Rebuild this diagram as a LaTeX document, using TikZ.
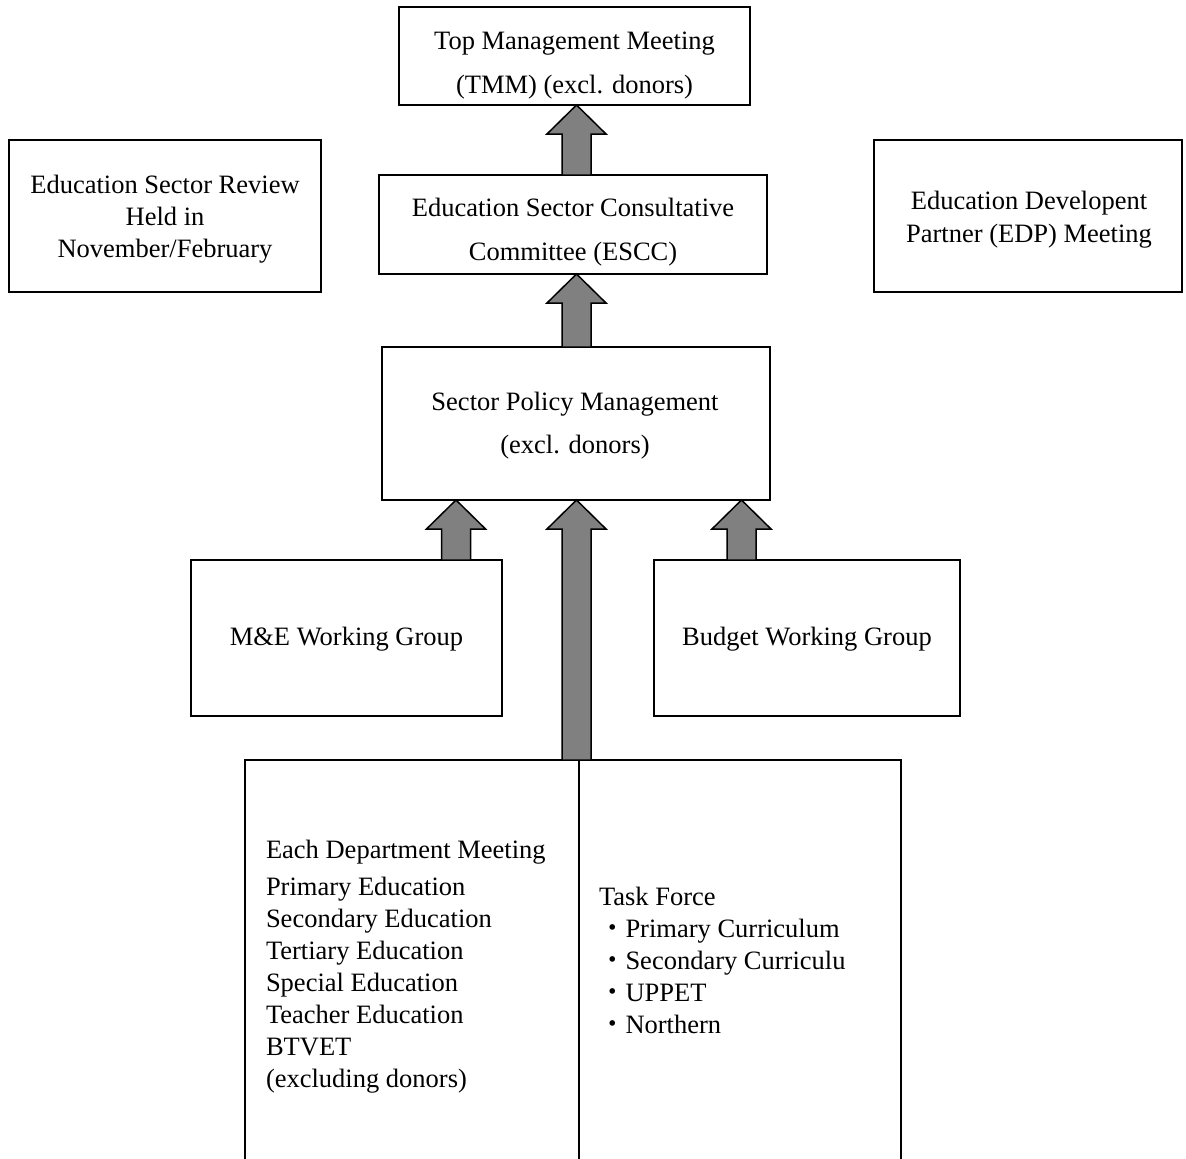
\documentclass[tikz,border=0pt]{standalone}
\usepackage{fontspec}
\setmainfont{Liberation Serif}
\newfontfamily\cjkfont{Noto Sans CJK JP}
\usetikzlibrary{calc}
\definecolor{flowgray}{HTML}{808080}
\tikzset{
  box/.style={draw=black, line width=1.3pt, fill=white, inner sep=0pt, outer sep=0pt},
  lbl/.style={inner sep=0pt, outer sep=0pt, font=\fontsize{26.5}{32}\selectfont},
  upflow/.style={draw=black, line width=1.5pt, fill=flowgray, line join=miter},
}
% block arrow pointing up: #1 = foot of the shaft, #2 = tip
\newcommand\upblock[2]{%
  \draw[upflow] let \p1=#1, \p2=#2 in
    (\x2-14.5pt,\y1) -- (\x2-14.5pt,\y2-29pt) -- (\x2-29.5pt,\y2-29pt) --
    (\x2,\y2) -- (\x2+29.5pt,\y2-29pt) -- (\x2+14.5pt,\y2-29pt) --
    (\x2+14.5pt,\y1) -- cycle;}
\begin{document}
\begin{tikzpicture}[x=1pt, y=-1pt]
\useasboundingbox (0,0) rectangle (1186,1159);
\clip (0,0) rectangle (1186,1159);

% boxes
\node[box, minimum width=351pt, minimum height=98pt]  (tmm)  at (574.5,56)  {};
\node[box, minimum width=312pt, minimum height=152pt] (esr)  at (165,216)   {};
\node[box, minimum width=388pt, minimum height=99pt]  (escc) at (573,224.5) {};
\node[box, minimum width=308pt, minimum height=152pt] (edp)  at (1028,216)  {};
\node[box, minimum width=388pt, minimum height=153pt] (spm)  at (576,423.5) {};
\node[box, minimum width=311pt, minimum height=156pt] (me)   at (346.5,638) {};
\node[box, minimum width=306pt, minimum height=156pt] (bud)  at (807,638)   {};
\node[box, minimum width=334pt, minimum height=420pt] (dept) at (412,970)   {};
\node[box, minimum width=322pt, minimum height=420pt] (task) at (740,970)   {};

% box texts
\node[lbl, anchor=base] (tmmA) at (574.5,49.5) {Top Management Meeting};
\node[lbl, anchor=base] (tmmB) at (574.5,93)   {(TMM) (excl. donors)};

\node[lbl, anchor=base] (esrA) at (165,193)   {Education Sector Review};
\node[lbl, anchor=base] (esrB) at (165,225)   {Held in};
\node[lbl, anchor=base] (esrC) at (165,257)   {November/February};

\node[lbl, anchor=base] (esccA) at (573,216) {Education Sector Consultative};
\node[lbl, anchor=base] (esccB) at (573,260) {Committee (ESCC)};

\node[lbl, anchor=base] (edpA) at (1029,209) {Education Developent};
\node[lbl, anchor=base] (edpB) at (1029,242) {Partner (EDP) Meeting};

\node[lbl, anchor=base] (spmA) at (575,410.5) {Sector Policy Management};
\node[lbl, anchor=base] (spmB) at (575,453)   {(excl. donors)};

\node[lbl, anchor=base] (meA)  at (346.5,645) {M\&E Working Group};
\node[lbl, anchor=base] (budA) at (807,645)   {Budget Working Group};

\node[lbl, anchor=base west] (deptHead) at (266,858) {Each Department Meeting};
\foreach \t [count=\i] in {{Primary Education},{Secondary Education},{Tertiary Education},
    {Special Education},{Teacher Education},{BTVET},{(excluding donors)}}
  \node[lbl, anchor=base west] (dept\i) at (266,{895+32*(\i-1)}) {\t};

\node[lbl, anchor=base west] (taskHead) at (599,905) {Task Force};
\foreach \t [count=\i] in {{Primary Curriculum},{Secondary Curriculu},{UPPET},{Northern}}
  \node[lbl, anchor=base west] (task\i) at (599,{937+32*(\i-1)}) {{\cjkfont ・}\t};

% arrow columns
\coordinate (colx) at (576.5,0);
\coordinate (mex)  at (456,0);
\coordinate (budx) at (741.5,0);

% upward block arrows
\upblock{(escc.north -| colx)}{(tmm.south -| colx)}
\upblock{(spm.north -| colx)}{(escc.south -| colx)}
\upblock{(dept.north -| colx)}{(spm.south -| colx)}
\upblock{(me.north -| mex)}{(spm.south -| mex)}
\upblock{(bud.north -| budx)}{(spm.south -| budx)}
\end{tikzpicture}
\end{document}
